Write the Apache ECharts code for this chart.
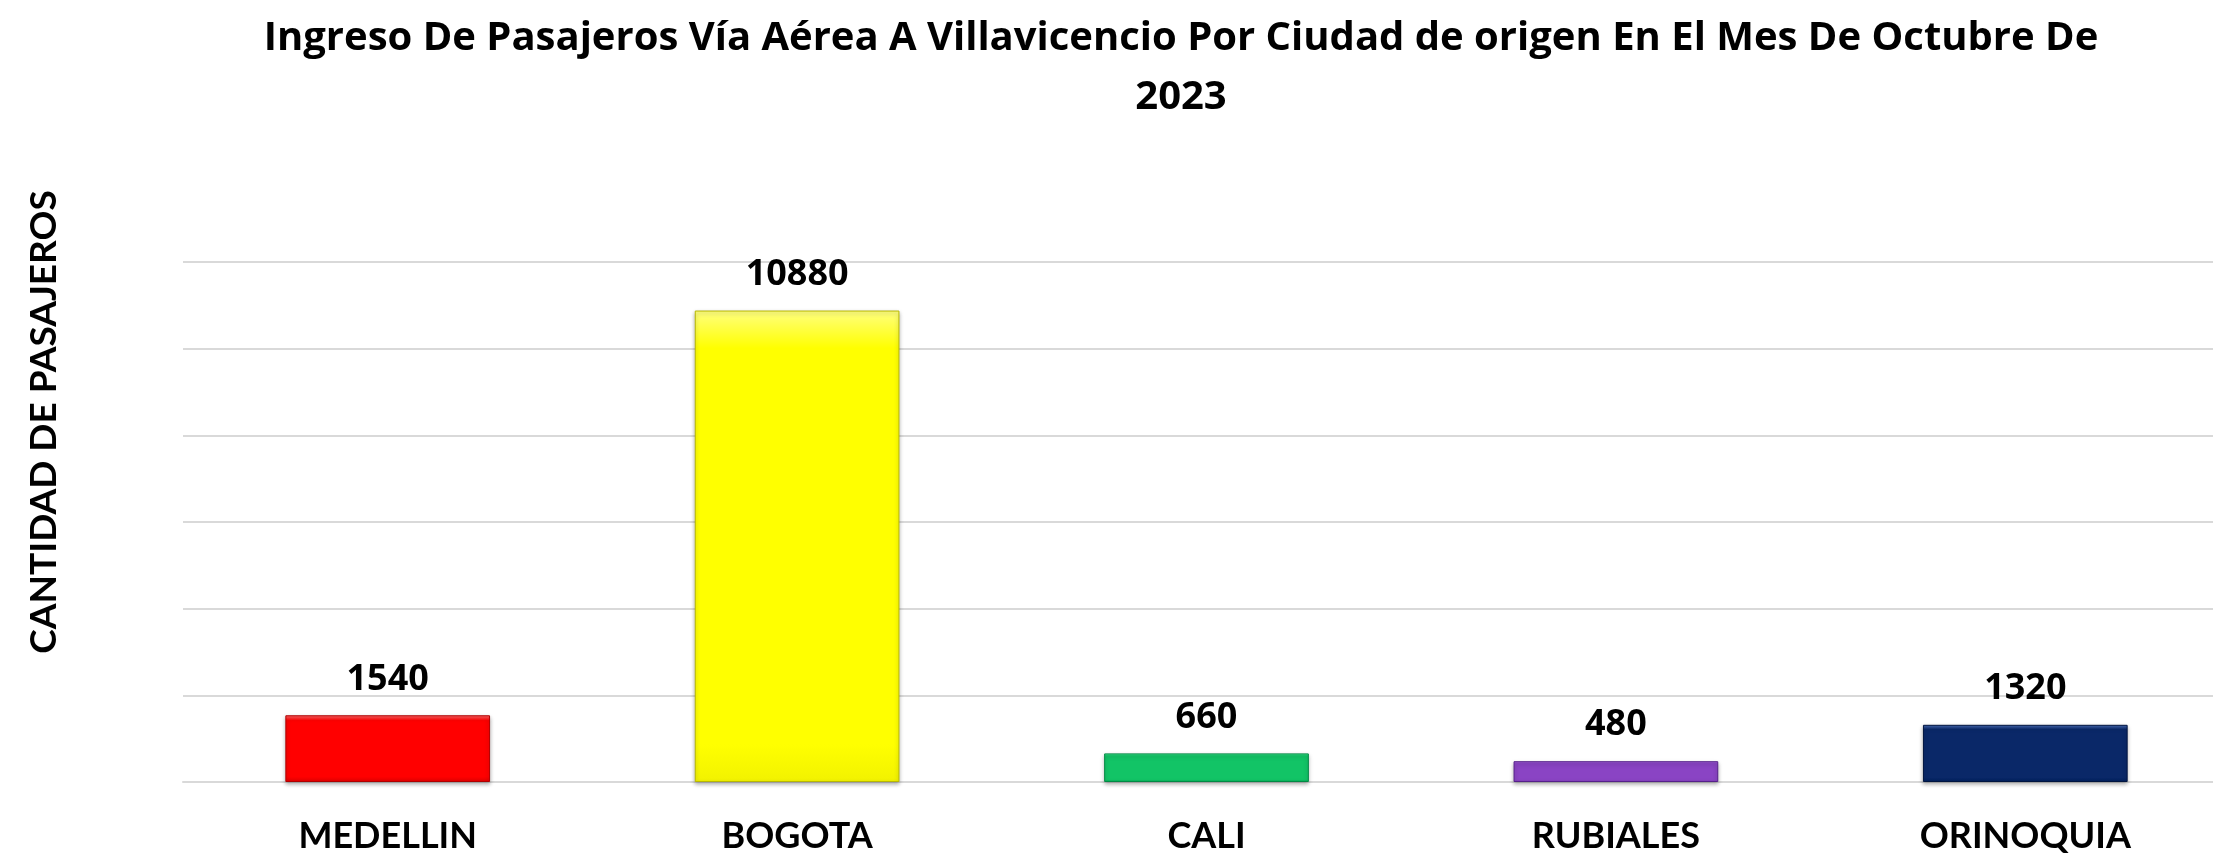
<!DOCTYPE html>
<html>
<head>
<meta charset="utf-8">
<script src="https://cdn.jsdelivr.net/npm/echarts@6/dist/echarts.min.js"></script>
<style>
html,body{margin:0;padding:0;background:#fff;}
#chart{width:2213px;height:854px;}
</style>
</head>
<body>
<div id="chart"></div>
<script>
const categories = ['MEDELLIN', 'BOGOTA', 'CALI', 'RUBIALES', 'ORINOQUIA'];
const passengers = [1540, 10880, 660, 480, 1320];
const yMin = 0, yMax = 12000, yStep = 2000;
const titleText = 'Ingreso De Pasajeros Vía Aérea A Villavicencio Por Ciudad de origen En El Mes De Octubre De\n2023';
const yAxisTitle = 'CANTIDAD DE PASAJEROS';

const palette = [
  ['#ff6a6a', '#ff0000', '#e00000'],
  ['#ffff80', '#ffff00', '#f2f200'],
  ['#5af7a4', '#12c466', '#00a955'],
  ['#c08af0', '#8a44c4', '#6f2fa6'],
  ['#4a6fb8', '#0a2868', '#001f5c']
];
const borders = ['#b00000', '#b8b800', '#008a44', '#56208a', '#001540'];

const FONT = 'Lato, "Noto Sans", sans-serif';
const TFONT = '"Open Sans", "Noto Sans", sans-serif';
const chart = echarts.init(document.getElementById('chart'));
chart.setOption({
  animation: false,
  title: {
    text: titleText,
    left: 1176,
    textAlign: 'center',
    top: 4,
    textStyle: { fontFamily: TFONT, fontWeight: 'bold', fontSize: 40, lineHeight: 59, color: '#000' }
  },
  grid: { left: 183, width: 2047, top: 262, height: 520, containLabel: false, outerBoundsMode: 'none' },
  xAxis: {
    type: 'category',
    data: categories,
    axisLine: { show: true, lineStyle: { color: '#d9d9d9', width: 2 } },
    axisTick: { show: false },
    axisLabel: { fontFamily: FONT, fontWeight: 'bold', fontSize: 36, color: '#000', margin: 36 }
  },
  yAxis: {
    type: 'value',
    min: yMin, max: yMax, interval: yStep,
    name: yAxisTitle,
    nameLocation: 'middle',
    nameRotate: 90,
    nameGap: 120,
    nameTextStyle: { fontFamily: FONT, fontWeight: 'bold', fontSize: 37, color: '#000', padding: [0, 0, 0, 200] },
    axisLabel: { show: false },
    axisLine: { show: false },
    axisTick: { show: false },
    splitLine: { lineStyle: { color: '#d9d9d9', width: 2 } }
  },
  series: [{
    type: 'bar',
    barWidth: '50%',
    data: passengers.map((v, i) => ({
      value: v,
      itemStyle: {
        color: new echarts.graphic.LinearGradient(0, 0, 0, 1, [
          { offset: 0, color: palette[i][0] },
          { offset: 0.08, color: palette[i][1] },
          { offset: 0.92, color: palette[i][1] },
          { offset: 1, color: palette[i][2] }
        ]),
        borderColor: borders[i],
        borderWidth: 1,
        shadowColor: 'rgba(0,0,0,0.3)',
        shadowBlur: 4,
        shadowOffsetY: 2
      }
    })),
    label: {
      show: true,
      position: 'top',
      distance: 18,
      fontFamily: TFONT,
      fontWeight: 'bold',
      fontSize: 36,
      color: '#000'
    }
  }]
});
</script>
</body>
</html>
